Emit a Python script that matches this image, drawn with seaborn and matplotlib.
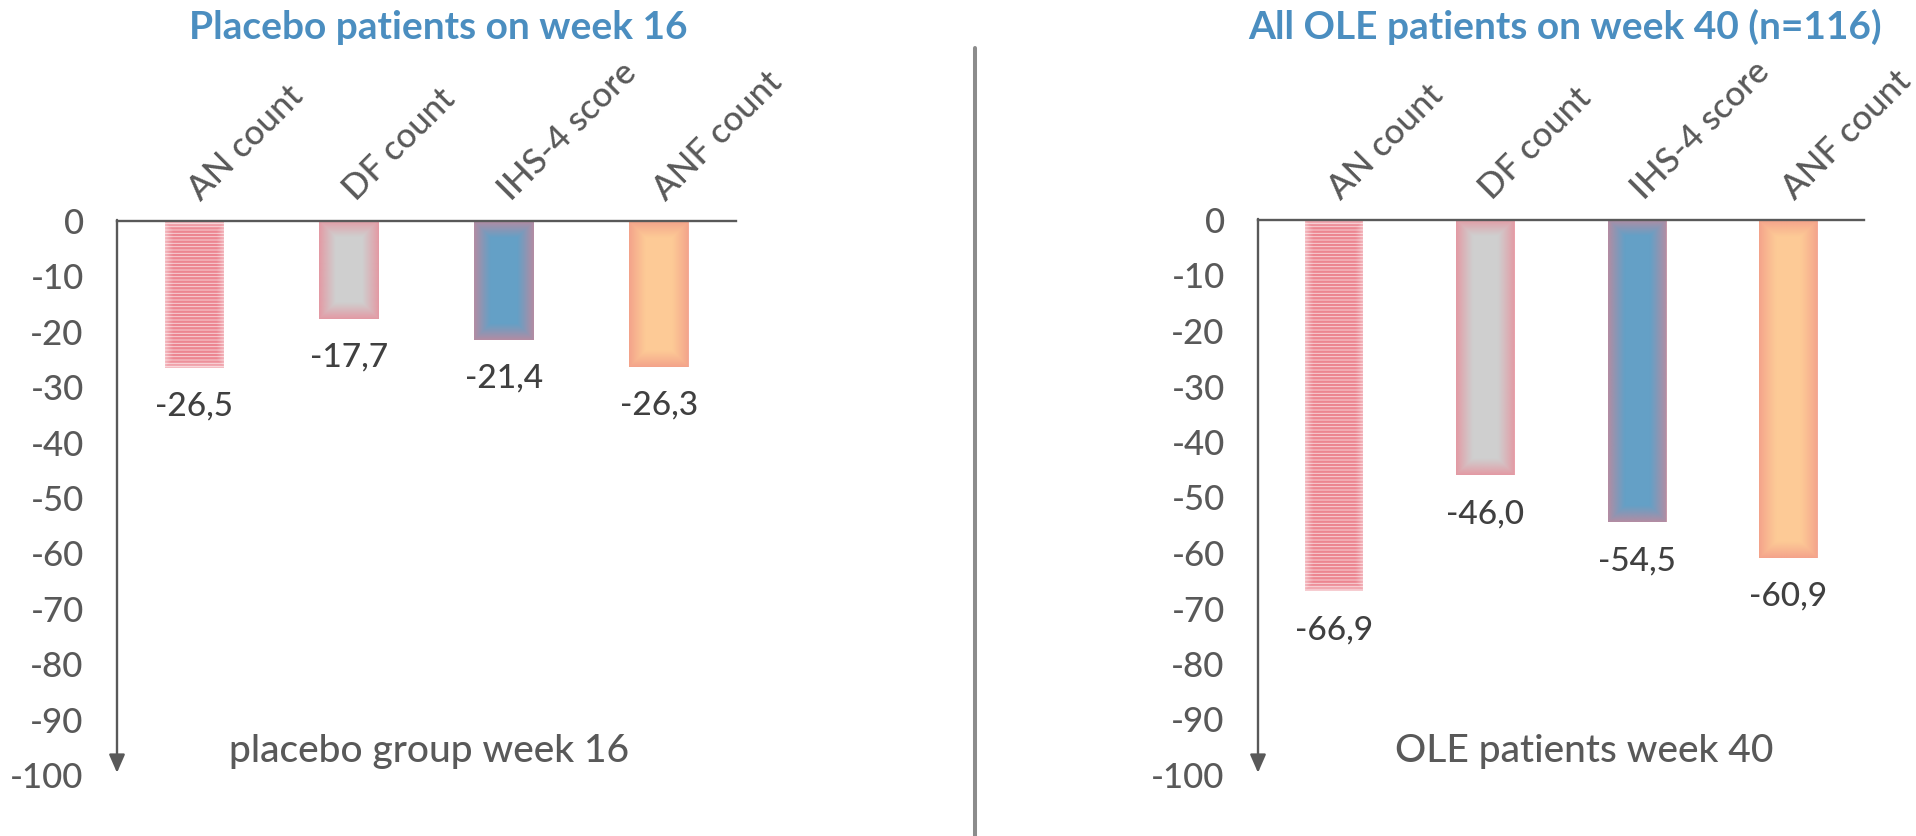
import numpy as np
import pandas as pd
import matplotlib
matplotlib.use("Agg")
import matplotlib.pyplot as plt
import matplotlib.transforms as mtransforms
import seaborn as sns
from matplotlib.colors import to_rgb
from matplotlib.lines import Line2D

# ---- data -------------------------------------------------------------
categories = ["AN count", "DF count", "IHS-4 score", "ANF count"]
placebo_week16 = [-26.5, -17.7, -21.4, -26.3]
ole_week40 = [-66.9, -46.0, -54.5, -60.9]

panel_titles = ["Placebo patients on week 16", "All OLE patients on week 40 (n=116)"]
panel_captions = ["placebo group week 16", "OLE patients week 40"]

y_ticks = [0, -10, -20, -30, -40, -50, -60, -70, -80, -90, -100]
y_tick_labels = ["0", "-10", "-20", "-30", "-40", "-50", "-60", "-70", "-80", "-90", "-100"]

# ---- style ------------------------------------------------------------
bar_fill = ["#F9D5D9", "#CFCFCF", "#64A0C6", "#FDCA96"]
bar_glow = ["#FFFFFF", "#E6939E", "#BE8A9E", "#F39E8A"]
stripe_color = "#EC8590"
axis_grey = "#595959"
label_dark = "#404040"
title_blue = "#4B8EC0"
text_weight = "medium"

sns.set_style("white")
plt.rcParams["font.family"] = ["Lato", "DejaVu Sans"]
plt.rcParams["hatch.linewidth"] = 1.75

W, H = 1916, 836
fig = plt.figure(figsize=(W / 100, H / 100), dpi=100)


def px_box(left, right, top, bottom):
    return [left / W, 1 - bottom / H, (right - left) / W, (bottom - top) / H]


def add_glow(ax, patch, color, width_px, strength, power):
    """Soft inner glow along the edges of a bar."""
    x0, y0 = patch.get_x(), patch.get_y()
    w, h = patch.get_width(), patch.get_height()
    p0 = ax.transData.transform((x0, y0))
    p1 = ax.transData.transform((x0 + w, y0 + h))
    wpx = max(int(round(abs(p1[0] - p0[0]))), 2)
    hpx = max(int(round(abs(p1[1] - p0[1]))), 2)
    xs = np.arange(wpx) + 0.5
    ys = np.arange(hpx) + 0.5
    dx = np.minimum(xs, wpx - xs)
    dy = np.minimum(ys, hpx - ys)
    d = np.minimum(dx[None, :], dy[:, None])
    alpha = strength * np.clip(1 - d / width_px, 0, 1) ** power
    img = np.zeros((hpx, wpx, 4))
    img[..., :3] = to_rgb(color)
    img[..., 3] = alpha
    ax.imshow(img, extent=(x0, x0 + w, min(y0, y0 + h), max(y0, y0 + h)),
              aspect="auto", interpolation="bilinear",
              zorder=patch.get_zorder() + 0.1)


def draw_panel(box, values, title, title_x, caption, caption_x):
    ax = fig.add_axes(box)
    df = pd.DataFrame({"category": categories, "value": values})
    sns.barplot(data=df, x="category", y="value", hue="category",
                order=categories, hue_order=categories, palette=bar_fill,
                saturation=1, width=0.385, errorbar=None, legend=False,
                linewidth=0, ax=ax)
    ax.set_xlim(-0.5, len(categories) - 0.5)
    ax.set_ylim(-100, 0)

    bars = sorted(ax.patches, key=lambda p: p.get_x())
    for i, bar in enumerate(bars):
        if i == 0:
            bar.set_edgecolor(stripe_color)
            bar.set_hatch("-----")
            bar.set_linewidth(0)
            add_glow(ax, bar, bar_glow[i], 9, 0.45, 1.2)
        else:
            add_glow(ax, bar, bar_glow[i], 17, 0.9, 1.1)
    ax.set_xlim(-0.5, len(categories) - 0.5)
    ax.set_ylim(-100, 0)

    # value labels under each bar
    for bar, v in zip(bars, values):
        ax.annotate(f"{v:.1f}".replace(".", ","),
                    xy=(bar.get_x() + bar.get_width() / 2, v),
                    xytext=(0, -34.5), textcoords="offset points",
                    ha="center", va="baseline", fontsize=24,
                    fontweight=text_weight, color=label_dark)

    # axes frame: zero line on top, downward arrow on the left
    for side in ["left", "right", "bottom"]:
        ax.spines[side].set_visible(False)
    ax.spines["top"].set_color(axis_grey)
    ax.spines["top"].set_linewidth(1.7)
    ax.spines["top"].set_zorder(5)
    ax.annotate("", xy=(0, -99.6), xytext=(0, 0.2),
                xycoords=ax.get_yaxis_transform(),
                textcoords=ax.get_yaxis_transform(),
                arrowprops=dict(arrowstyle="-|>,head_length=0.55,head_width=0.24",
                                mutation_scale=20, color=axis_grey, lw=1.7,
                                shrinkA=0, shrinkB=0),
                annotation_clip=False)

    ax.set_yticks(y_ticks)
    ax.set_yticklabels(y_tick_labels, fontweight=text_weight)
    ax.tick_params(axis="y", length=0, pad=24, labelsize=25, labelcolor=axis_grey)

    ax.xaxis.tick_top()
    ax.tick_params(axis="x", length=0, pad=13.5, labelsize=25, labelcolor=axis_grey)
    shift = mtransforms.ScaledTranslation(7 / 100, 0, fig.dpi_scale_trans)
    for lab in ax.get_xticklabels():
        lab.set_rotation(45)
        lab.set_ha("left")
        lab.set_va("baseline")
        lab.set_rotation_mode("anchor")
        lab.set_fontweight(text_weight)
        lab.set_transform(lab.get_transform() + shift)
    ax.set_xlabel("")
    ax.set_ylabel("")
    ax.grid(False)
    ax.set_facecolor("none")

    fig.text(title_x / W, 1 - 39 / H, title, ha="center", va="baseline",
             fontsize=28, fontweight="bold", color=title_blue)
    fig.text(caption_x / W, 1 - 762 / H, caption, ha="center", va="baseline",
             fontsize=28, fontweight=text_weight, color=axis_grey)
    return ax


draw_panel(px_box(117, 736, 221, 775), placebo_week16,
           panel_titles[0], 438, panel_captions[0], 429)
draw_panel(px_box(1258, 1864, 220, 775), ole_week40,
           panel_titles[1], 1565, panel_captions[1], 1584)

# vertical divider between the two panels
fig.add_artist(Line2D([975 / W, 975 / W], [0, 1 - 48 / H],
                      transform=fig.transFigure, color="#8C8C8C", lw=2.9))

fig.savefig("out.png", dpi=100, facecolor="white")
